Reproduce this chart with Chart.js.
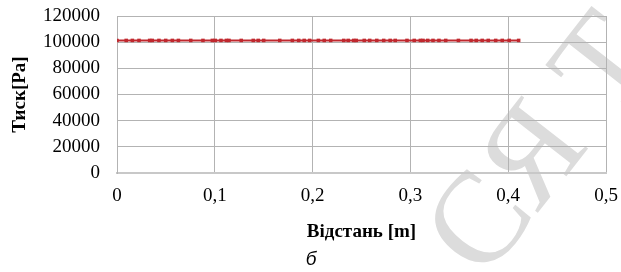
<!DOCTYPE html>
<html>
<head>
<meta charset="utf-8">
<script src="https://cdn.jsdelivr.net/npm/chart.js@4"></script>
<style>
  html, body { margin: 0; padding: 0; background: #fff; }
  canvas { display: block; }
</style>
</head>
<body>
<canvas id="myChart" width="621" height="272"></canvas>
<script>
// distance along the tube [m]
const distance = [
  0, 0.0094, 0.0157, 0.0225, 0.0334, 0.036, 0.0429, 0.0498, 0.0566, 0.0628,
  0.0754, 0.0879, 0.0975, 0.1004, 0.1063, 0.1119, 0.1145, 0.127, 0.1393, 0.1444,
  0.15, 0.1664, 0.1793, 0.1858, 0.1914, 0.197, 0.2059, 0.2119, 0.2185, 0.2318,
  0.2364, 0.242, 0.2446, 0.2528, 0.2584, 0.2656, 0.2727, 0.2793, 0.2845, 0.2965,
  0.3039, 0.3102, 0.3129, 0.3177, 0.3231, 0.3292, 0.3361, 0.3491, 0.362, 0.3673,
  0.3734, 0.3796, 0.3872, 0.3939, 0.401, 0.4107
];
// pressure [Pa], flat at atmospheric
const pressure = distance.map(() => 101325);

const xTicks = [0, 0.1, 0.2, 0.3, 0.4, 0.5];
const yTicks = [0, 20000, 40000, 60000, 80000, 100000, 120000];

const serif = "'Liberation Serif', 'Times New Roman', serif";
const red = "#c0282e";
const grid = "#b3b3b3";

const watermark = {
  id: "watermark",
  beforeDraw(chart) {
    const ctx = chart.ctx;
    ctx.save();
    ctx.fillStyle = "#dcdcdc";
    ctx.font = "130px " + serif;
    ctx.translate(485, 225);
    ctx.rotate(-52 * Math.PI / 180);
    ctx.textBaseline = "middle";
    ctx.fillText("СЯ Т", -45, 0);
    ctx.restore();
  },
  afterDraw(chart) {
    const ctx = chart.ctx;
    ctx.save();
    ctx.fillStyle = "#000";
    ctx.font = "italic 19px 'Liberation Sans', Arial, sans-serif";
    ctx.textAlign = "center";
    ctx.textBaseline = "middle";
    ctx.fillText("б", 311, 260);
    ctx.restore();
  }
};

const ctx = "myChart";
// eslint-disable-next-line
const myChart = new Chart(ctx, {
  type: "line",
  data: {
    datasets: [
      {
        label: "Тиск",
        data: distance.map((d, i) => ({ x: d, y: pressure[i] })),
        fill: false,
        borderColor: red,
        backgroundColor: red,
        borderWidth: 2,
        pointStyle: "rect",
        pointRadius: 2.5,
        pointBorderWidth: 0,
        pointBackgroundColor: red,
      },
    ],
  },
  options: {
    responsive: false,
    animation: false,
    layout: { padding: { top: 16, right: 15, bottom: 0, left: 0 } },
    plugins: { legend: { display: false }, tooltip: { enabled: false } },
    scales: {
      x: {
        type: "linear",
        min: 0,
        max: 0.5,
        afterBuildTicks: (s) => { s.ticks = xTicks.map((v) => ({ value: v })); },
        afterFit: (s) => {
          s.height = 99;
          s.paddingLeft = 0;
          s.paddingRight = 0;
        },
        ticks: {
          color: "#000",
          padding: 12,
          autoSkip: false,
          maxRotation: 0,
          font: { family: serif, size: 19 },
          callback: (v) => (v === 0 ? "0" : v.toFixed(1).replace(".", ",")),
        },
        grid: { color: grid, drawTicks: false },
        border: { color: "#c8c8c8", width: 2 },
        title: {
          display: true,
          text: "Відстань [m]",
          color: "#000",
          font: { family: serif, size: 19, weight: "bold" },
          padding: { top: 0, bottom: 29 },
        },
      },
      y: {
        min: 0,
        max: 120000,
        afterBuildTicks: (s) => { s.ticks = yTicks.map((v) => ({ value: v })); },
        afterFit: (s) => {
          s.width = 117;
          s.paddingTop = 0;
          s.paddingBottom = 0;
        },
        ticks: {
          color: "#000",
          padding: 17,
          autoSkip: false,
          font: { family: serif, size: 19 },
          callback: (v) => String(v),
        },
        grid: { color: grid, drawTicks: false },
        border: { color: grid, width: 1 },
        title: {
          display: true,
          text: "Тиск[Pa]",
          color: "#000",
          font: { family: serif, size: 19, weight: "bold" },
          padding: { top: 9, bottom: 0 },
        },
      },
    },
  },
  plugins: [watermark],
});
</script>
</body>
</html>
